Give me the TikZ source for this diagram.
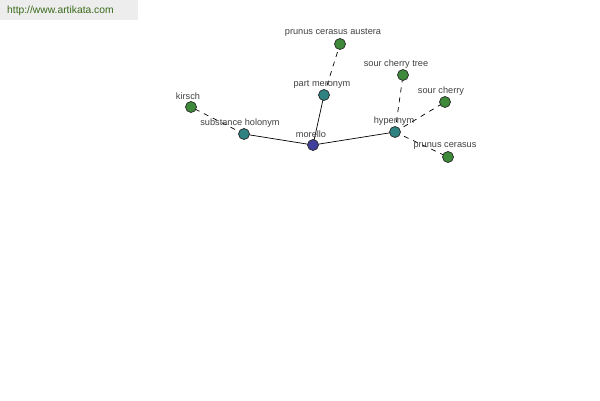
\documentclass[tikz,border=0pt]{standalone}
\usepackage{fontspec}
\setmainfont{Liberation Sans}
\definecolor{ngreen}{HTML}{3F8A3A}
\definecolor{nteal}{HTML}{2F8282}
\definecolor{nblue}{HTML}{40409C}
\definecolor{urlgreen}{HTML}{3A6A1A}
\begin{document}
\begin{tikzpicture}[x=1pt,y=-1pt,
  dot/.style={circle,draw=black!85,line width=0.7pt,minimum size=11pt,inner sep=0pt},
  gdot/.style={dot,fill=ngreen},
  tdot/.style={dot,fill=nteal},
  bdot/.style={dot,fill=nblue},
  lbl/.style={font=\fontsize{9.2}{10}\selectfont,text=black!75,inner sep=0pt},
  solidlink/.style={draw=black,line width=0.7pt},
  dashlink/.style={draw=black,line width=0.7pt,dash pattern=on 5pt off 5pt}]
\useasboundingbox (0,0) rectangle (600,400);
\fill[black!7] (0,0) rectangle (138,20);
\node[font=\fontsize{10.3}{12}\selectfont,text=urlgreen,anchor=west,inner sep=0pt] (url) at (7,11) {http://www.artikata.com};
\coordinate (mo) at (313,145);
\coordinate (sh) at (244,134);
\coordinate (ki) at (191,107);
\coordinate (pm) at (324,95);
\coordinate (pa) at (340,44);
\coordinate (hy) at (395,132);
\coordinate (st) at (403,75);
\coordinate (sc) at (445,102);
\coordinate (pc) at (448,157);
\draw[solidlink] (mo) -- (sh);
\draw[solidlink] (mo) -- (pm);
\draw[solidlink] (mo) -- (hy);
\draw[dashlink] (sh) -- (ki);
\draw[dashlink] (pm) -- (pa);
\draw[dashlink] (hy) -- (st);
\draw[dashlink] (hy) -- (sc);
\draw[dashlink] (hy) -- (pc);
\node[bdot] (nmo) at (mo) {};
\node[tdot] (nsh) at (sh) {};
\node[gdot] (nki) at (ki) {};
\node[tdot] (npm) at (pm) {};
\node[gdot] (npa) at (pa) {};
\node[tdot] (nhy) at (hy) {};
\node[gdot] (nst) at (st) {};
\node[gdot] (nsc) at (sc) {};
\node[gdot] (npc) at (pc) {};
\node[lbl] (lmo) at (311,134) {morello};
\node[lbl] (lsh) at (240,123) {substance holonym};
\node[lbl] (lki) at (188,96) {kirsch};
\node[lbl] (lpm) at (322,84) {part meronym};
\node[lbl] (lpa) at (333,32) {prunus cerasus austera};
\node[lbl] (lst) at (396,64) {sour cherry tree};
\node[lbl] (lsc) at (441,91) {sour cherry};
\node[lbl] (lhy) at (394,121) {hypernym};
\node[lbl] (lpc) at (445,146) {prunus cerasus};
\end{tikzpicture}
\end{document}
